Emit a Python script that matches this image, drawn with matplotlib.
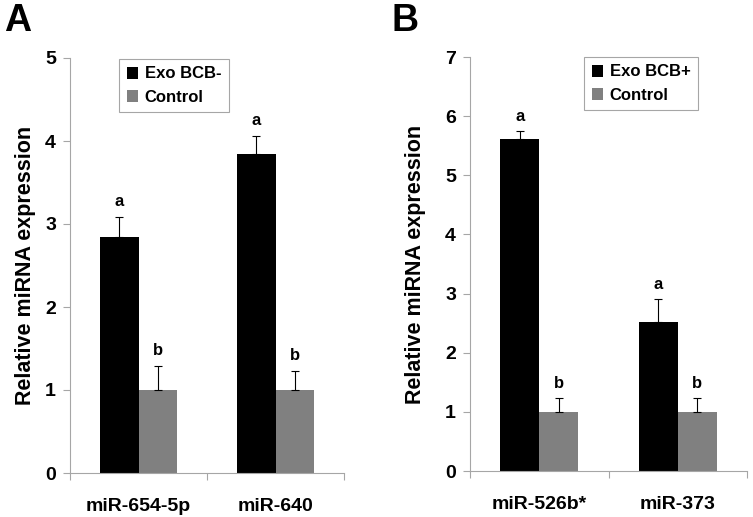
import matplotlib
matplotlib.use("Agg")
import matplotlib.pyplot as plt
from matplotlib.patches import Patch

plt.rcParams['font.family'] = ['Liberation Sans', 'DejaVu Sans']
plt.rcParams['font.weight'] = 'bold'

# panel A
genes_a = ['miR-654-5p', 'miR-640']
exo_a = [2.84, 3.84]
exo_a_err = [0.24, 0.22]
ctrl_a = [1.0, 1.0]
ctrl_a_err = [0.29, 0.23]
label_exo_a = 'Exo BCB-'

# panel B
genes_b = ['miR-526b*', 'miR-373']
exo_b = [5.62, 2.52]
exo_b_err = [0.13, 0.39]
ctrl_b = [1.0, 1.0]
ctrl_b_err = [0.23, 0.24]
label_exo_b = 'Exo BCB+'

sig_exo = ['a', 'a']
sig_ctrl = ['b', 'b']

W, H = 753, 517
fig = plt.figure(figsize=(W / 100, H / 100), dpi=100)

axis_grey = '#a6a6a6'
bar_black = '#000000'
bar_grey = '#808080'
bw = 0.283


def panel(rect, genes, exo, exo_err, ctrl, ctrl_err, exo_label, ymax, letter_off, leg_box, ypad):
    l, r, t, b = rect
    ax = fig.add_axes([l / W, 1 - b / H, (r - l) / W, (b - t) / H])
    x = list(range(len(genes)))
    xe = [i - bw / 2 for i in x]
    xc = [i + bw / 2 for i in x]
    ax.bar(xe, exo, width=bw, color=bar_black, label=exo_label)
    ax.bar(xc, ctrl, width=bw, color=bar_grey, label='Control')
    ax.errorbar(xe, exo, yerr=[[0] * len(exo), exo_err], fmt='none', ecolor='black',
                elinewidth=0.8, capsize=3, capthick=0.8)
    ax.errorbar(xc, ctrl, yerr=[[0] * len(ctrl), ctrl_err], fmt='none', ecolor='black',
                elinewidth=0.8, capsize=3, capthick=0.8)
    for i in x:
        ax.text(xe[i], exo[i] + exo_err[i] + letter_off, sig_exo[i], ha='center', va='bottom',
                fontsize=12, fontweight='bold')
        ax.text(xc[i], ctrl[i] + ctrl_err[i] + letter_off, sig_ctrl[i], ha='center', va='bottom',
                fontsize=12, fontweight='bold')
    ax.set_xlim(-0.5, len(genes) - 0.5)
    ax.set_ylim(0, ymax)
    ax.set_yticks(range(ymax + 1))
    ax.set_xticks(x)
    ax.set_xticklabels(genes, fontsize=14, fontweight='bold')
    ax.set_xticks([i - 0.5 for i in range(len(genes) + 1)], minor=True)
    ax.tick_params(axis='x', which='major', length=0, pad=18)
    ax.tick_params(axis='x', which='minor', length=5, color=axis_grey, width=0.8)
    ax.tick_params(axis='y', length=5, color=axis_grey, width=0.8, labelsize=14, pad=5)
    for lab in ax.get_yticklabels():
        lab.set_fontweight('bold')
    for s in ['top', 'right']:
        ax.spines[s].set_visible(False)
    for s in ['left', 'bottom']:
        ax.spines[s].set_color(axis_grey)
        ax.spines[s].set_linewidth(0.8)
    ax.set_ylabel('Relative miRNA expression', fontsize=15.5, fontweight='bold', labelpad=ypad)
    handles = [Patch(facecolor=bar_black, label=exo_label), Patch(facecolor=bar_grey, label='Control')]
    lx, ly = leg_box
    leg = ax.legend(handles=handles, loc='upper left',
                    bbox_to_anchor=((lx - l) / (r - l), (b - ly) / (b - t)),
                    frameon=True, fancybox=False, edgecolor=axis_grey, framealpha=1,
                    prop={'size': 12, 'weight': 'bold'}, handlelength=0.7, handleheight=0.7,
                    handletextpad=0.4, borderpad=0.45, labelspacing=0.5, borderaxespad=0)
    leg.get_frame().set_linewidth(0.8)
    return ax


panel((70, 344, 58, 473), genes_a, exo_a, exo_a_err, ctrl_a, ctrl_a_err, label_exo_a, 5, 0.1,
      (119, 59), 7)
panel((470, 747, 57, 471), genes_b, exo_b, exo_b_err, ctrl_b, ctrl_b_err, label_exo_b, 7, 0.12,
      (584, 57), 14)

fig.text(4 / W, 1 - 3 / H, 'A', fontsize=27, fontweight='bold', va='top', ha='left')
fig.text(391 / W, 1 - 3 / H, 'B', fontsize=27, fontweight='bold', va='top', ha='left')

fig.savefig('out.png', dpi=100)
